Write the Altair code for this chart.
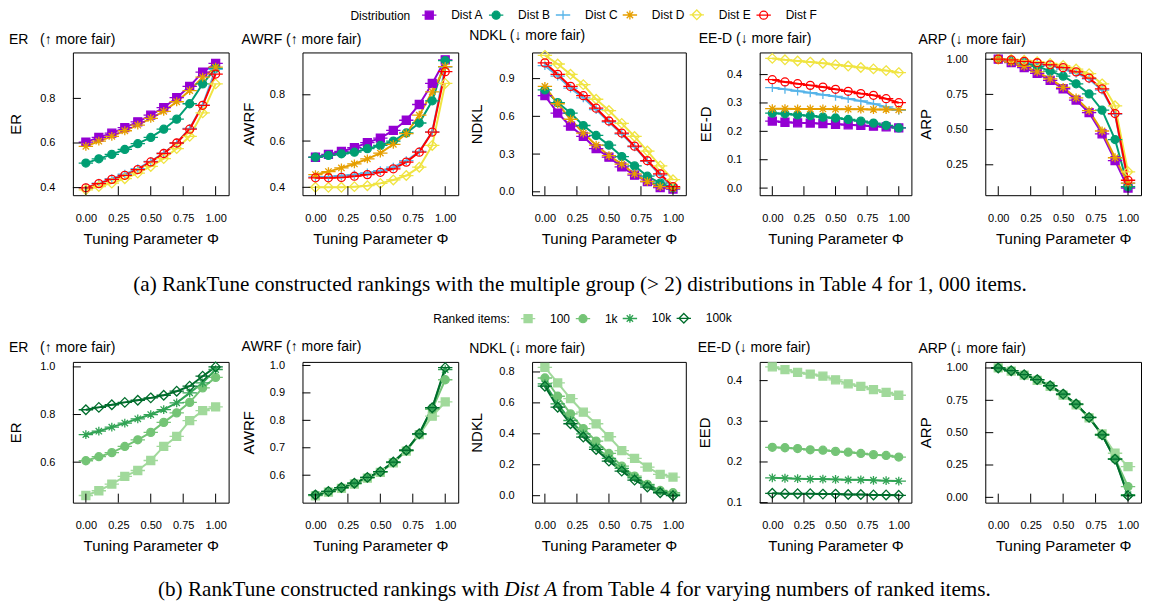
import altair as alt
import pandas as pd

FONT = "Liberation Sans"
SERIF = "Liberation Serif"

# ---------------- data ----------------
PHI = [0.0, 0.1, 0.2, 0.3, 0.4, 0.5, 0.6, 0.7, 0.8, 0.9, 1.0]
X_TICKS = [0.0, 0.25, 0.5, 0.75, 1.0]

DISTS = ["Dist A", "Dist B", "Dist C", "Dist D", "Dist E", "Dist F"]
DIST_COLORS = ["#9400d3", "#009e73", "#56b4e9", "#e69f00", "#f0e442", "#ff0000"]
DIST_FILLS = ["#9400d3", "#009e73", "transparent", "transparent", "transparent", "transparent"]

ITEMS = ["100", "1k", "10k", "100k"]
ITEM_COLORS = ["#a1d99b", "#74c476", "#31a354", "#006d2c"]
ITEM_FILLS = ["#a1d99b", "#74c476", "transparent", "transparent"]

# marker symbols (with the horizontal error-cap stroke)
SQUARE = "M-1.8,0H1.8M-1,-1H1V1H-1Z"
CIRCLE = "M-1.8,0H1.8M-1,0A1,1,0,1,0,1,0A1,1,0,1,0,-1,0Z"
PLUS = "M-1.8,0H1.8M0,-1.1V1.1"
STAR = "M-1.8,0H1.8M0,-1.1V1.1M-0.8,-0.8L0.8,0.8M-0.8,0.8L0.8,-0.8"
DIAMOND = "M-1.8,0H1.8M0,-1.2L1.2,0L0,1.2L-1.2,0Z"
DIST_SHAPES = [SQUARE, CIRCLE, PLUS, STAR, DIAMOND, CIRCLE]
ITEM_SHAPES = [SQUARE, CIRCLE, STAR, DIAMOND]

# (a) multiple-group distributions, 1,000 items
TOP_ER = {
    "Dist A": [0.604, 0.625, 0.644, 0.669, 0.695, 0.725, 0.759, 0.803, 0.854, 0.918, 0.957],
    "Dist B": [0.510, 0.529, 0.549, 0.571, 0.597, 0.625, 0.662, 0.707, 0.776, 0.865, 0.935],
    "Dist C": [0.400, 0.420, 0.440, 0.460, 0.485, 0.518, 0.555, 0.600, 0.665, 0.770, 0.930],
    "Dist D": [0.585, 0.608, 0.630, 0.655, 0.680, 0.710, 0.742, 0.785, 0.835, 0.895, 0.940],
    "Dist E": [0.390, 0.405, 0.420, 0.440, 0.465, 0.495, 0.530, 0.575, 0.630, 0.735, 0.865],
    "Dist F": [0.399, 0.418, 0.437, 0.455, 0.481, 0.515, 0.553, 0.600, 0.662, 0.769, 0.909],
}
TOP_AWRF = {
    "Dist A": [0.530, 0.542, 0.555, 0.571, 0.593, 0.613, 0.646, 0.690, 0.758, 0.849, 0.951],
    "Dist B": [0.530, 0.538, 0.545, 0.552, 0.567, 0.581, 0.600, 0.635, 0.678, 0.774, 0.948],
    "Dist C": [0.445, 0.446, 0.450, 0.455, 0.462, 0.472, 0.487, 0.515, 0.555, 0.640, 0.920],
    "Dist D": [0.455, 0.468, 0.484, 0.501, 0.523, 0.548, 0.586, 0.632, 0.712, 0.813, 0.922],
    "Dist E": [0.400, 0.400, 0.400, 0.403, 0.407, 0.417, 0.432, 0.451, 0.487, 0.581, 0.849],
    "Dist F": [0.441, 0.441, 0.443, 0.448, 0.455, 0.465, 0.480, 0.509, 0.552, 0.639, 0.900],
}
TOP_NDKL = {
    "Dist A": [0.764, 0.626, 0.522, 0.440, 0.343, 0.275, 0.198, 0.132, 0.082, 0.033, 0.022],
    "Dist B": [0.810, 0.709, 0.626, 0.527, 0.448, 0.371, 0.280, 0.206, 0.124, 0.069, 0.033],
    "Dist C": [1.003, 0.920, 0.824, 0.747, 0.654, 0.555, 0.459, 0.357, 0.242, 0.132, 0.033],
    "Dist D": [0.838, 0.700, 0.577, 0.467, 0.371, 0.288, 0.220, 0.143, 0.082, 0.041, 0.027],
    "Dist E": [1.085, 1.016, 0.934, 0.852, 0.736, 0.646, 0.544, 0.440, 0.324, 0.206, 0.096],
    "Dist F": [1.025, 0.934, 0.838, 0.764, 0.665, 0.563, 0.467, 0.363, 0.247, 0.143, 0.041],
}
TOP_EED = {
    "Dist A": [0.236, 0.232, 0.230, 0.229, 0.227, 0.225, 0.223, 0.221, 0.218, 0.216, 0.212],
    "Dist B": [0.264, 0.262, 0.258, 0.255, 0.250, 0.247, 0.242, 0.236, 0.229, 0.221, 0.212],
    "Dist C": [0.354, 0.348, 0.342, 0.336, 0.329, 0.323, 0.315, 0.307, 0.297, 0.286, 0.274],
    "Dist D": [0.280, 0.280, 0.279, 0.279, 0.279, 0.278, 0.278, 0.278, 0.277, 0.277, 0.276],
    "Dist E": [0.457, 0.452, 0.448, 0.444, 0.440, 0.435, 0.430, 0.425, 0.420, 0.414, 0.407],
    "Dist F": [0.382, 0.374, 0.368, 0.362, 0.356, 0.348, 0.341, 0.333, 0.327, 0.315, 0.301],
}
TOP_ARP = {
    "Dist A": [1.000, 0.975, 0.940, 0.900, 0.850, 0.790, 0.710, 0.620, 0.470, 0.280, 0.085],
    "Dist B": [1.000, 0.990, 0.975, 0.950, 0.915, 0.880, 0.825, 0.753, 0.638, 0.429, 0.094],
    "Dist C": [1.000, 0.990, 0.980, 0.970, 0.955, 0.930, 0.900, 0.860, 0.780, 0.610, 0.120],
    "Dist D": [1.000, 0.980, 0.950, 0.910, 0.860, 0.800, 0.725, 0.635, 0.490, 0.300, 0.120],
    "Dist E": [1.000, 0.998, 0.992, 0.982, 0.970, 0.955, 0.930, 0.897, 0.825, 0.669, 0.200],
    "Dist F": [1.000, 0.995, 0.985, 0.975, 0.960, 0.940, 0.910, 0.866, 0.789, 0.614, 0.140],
}

# (b) Dist A, varying numbers of ranked items
BOT_ER = {
    "100": [0.460, 0.480, 0.508, 0.540, 0.565, 0.607, 0.666, 0.708, 0.774, 0.816, 0.832],
    "1k": [0.606, 0.623, 0.640, 0.666, 0.694, 0.725, 0.767, 0.807, 0.851, 0.912, 0.956],
    "10k": [0.716, 0.730, 0.747, 0.764, 0.782, 0.800, 0.821, 0.849, 0.891, 0.933, 0.989],
    "100k": [0.820, 0.830, 0.841, 0.851, 0.860, 0.870, 0.881, 0.898, 0.919, 0.961, 1.000],
}
BOT_AWRF = {
    "100": [0.525, 0.538, 0.552, 0.568, 0.589, 0.610, 0.645, 0.688, 0.748, 0.815, 0.867],
    "1k": [0.528, 0.540, 0.554, 0.570, 0.591, 0.612, 0.647, 0.690, 0.750, 0.840, 0.948],
    "10k": [0.528, 0.541, 0.555, 0.571, 0.592, 0.613, 0.648, 0.691, 0.751, 0.845, 0.985],
    "100k": [0.528, 0.541, 0.555, 0.571, 0.592, 0.613, 0.648, 0.691, 0.751, 0.846, 0.992],
}
BOT_NDKL = {
    "100": [0.830, 0.729, 0.628, 0.540, 0.465, 0.381, 0.292, 0.241, 0.185, 0.138, 0.120],
    "1k": [0.761, 0.643, 0.529, 0.434, 0.353, 0.273, 0.191, 0.127, 0.073, 0.034, 0.019],
    "10k": [0.723, 0.594, 0.486, 0.400, 0.314, 0.241, 0.176, 0.116, 0.069, 0.030, 0.009],
    "100k": [0.708, 0.572, 0.465, 0.379, 0.299, 0.224, 0.159, 0.101, 0.056, 0.019, 0.000],
}
BOT_EED = {
    "100": [0.434, 0.427, 0.420, 0.416, 0.411, 0.402, 0.392, 0.386, 0.378, 0.371, 0.364],
    "1k": [0.236, 0.235, 0.233, 0.230, 0.229, 0.226, 0.224, 0.221, 0.218, 0.216, 0.212],
    "10k": [0.161, 0.160, 0.159, 0.158, 0.158, 0.157, 0.156, 0.156, 0.155, 0.154, 0.153],
    "100k": [0.123, 0.122, 0.122, 0.122, 0.121, 0.121, 0.120, 0.120, 0.119, 0.119, 0.118],
}
BOT_ARP = {
    "100": [1.000, 0.976, 0.945, 0.905, 0.858, 0.790, 0.715, 0.615, 0.490, 0.341, 0.238],
    "1k": [1.000, 0.978, 0.947, 0.909, 0.862, 0.797, 0.720, 0.617, 0.484, 0.300, 0.083],
    "10k": [1.000, 0.979, 0.948, 0.910, 0.863, 0.798, 0.721, 0.618, 0.483, 0.295, 0.020],
    "100k": [1.000, 0.979, 0.948, 0.910, 0.863, 0.798, 0.721, 0.618, 0.483, 0.295, 0.013],
}

NB = "\u00a0"
TOP_TITLES = ["ER" + NB * 3 + "(↑ more fair)", "AWRF (↑ more fair)", "NDKL (↓ more fair)",
              "EE-D (↓ more fair)", "ARP (↓ more fair)"]
BOT_TITLES = TOP_TITLES
TOP_YTITLES = ["ER", "AWRF", "NDKL", "EE-D", "ARP"]
BOT_YTITLES = ["ER", "AWRF", "NDKL", "EED", "ARP"]

TOP_YTICKS = [[0.4, 0.6, 0.8], [0.4, 0.6, 0.8], [0.0, 0.3, 0.6, 0.9],
              [0.0, 0.1, 0.2, 0.3, 0.4], [0.25, 0.5, 0.75, 1.0]]
BOT_YTICKS = [[0.6, 0.8, 1.0], [0.6, 0.7, 0.8, 0.9, 1.0], [0.0, 0.2, 0.4, 0.6, 0.8],
              [0.1, 0.2, 0.3, 0.4], [0.0, 0.25, 0.5, 0.75, 1.0]]
TOP_YFMT = [".1f", ".1f", ".1f", ".1f", ".2f"]
BOT_YFMT = [".1f", ".1f", ".1f", ".1f", ".2f"]
TOP_YDOM = [[0.366, 1.006], [0.366, 0.983], [-0.027, 1.108], [-0.025, 0.478], [0.034, 1.048]]
BOT_YDOM = [[0.43, 1.021], [0.5, 1.013], [-0.045, 0.865], [0.1, 0.446], [-0.041, 1.047]]

CAP_A = "(a) RankTune constructed rankings with the multiple group (> 2) distributions in Table 4 for 1, 000 items."
CAP_B_PRE = "(b) RankTune constructed rankings with"
CAP_B_ITAL = "Dist A"
CAP_B_POST = "from Table 4 for varying numbers of ranked items."

# ---------------- layout ----------------
WIDTHS = [156, 156, 154, 152, 156]
SPACING = 74
TOP_H = 143
BOT_H = 141
TOP_TDIST = [57, 54, 56, 54, 60]
BOT_TDIST = [57, 54, 56, 55, 60]
CAP_W = 1068
CAP_SIZE = 21.2


def make_df(values, order):
    rows = []
    for s in order:
        for p, v in zip(PHI, values[s]):
            rows.append({"phi": p, "v": v, "series": s})
    return pd.DataFrame(rows)


def panel(values, order, scales, legend, title, ytitle, ydom, yticks, yfmt, width, height, tdist):
    stroke_scale, fill_scale, shape_scale = scales
    df = make_df(values, order)
    x = alt.X("phi:Q", scale=alt.Scale(domain=[-0.1, 1.1], nice=False, zero=False),
              axis=alt.Axis(values=X_TICKS, format=".2f", title="Tuning Parameter Φ",
                            labelFlush=False, labelPadding=17, titlePadding=8))
    y = alt.Y("v:Q", scale=alt.Scale(domain=ydom, nice=False, zero=False),
              axis=alt.Axis(values=yticks, format=yfmt, title=ytitle, titleX=-tdist,
                            titleY=height / 2, titleAngle=270, titleAlign="center",
                            titleBaseline="middle", labelFlush=False, labelPadding=18))
    stroke = alt.Stroke("series:N", scale=stroke_scale, legend=legend)
    fill = alt.Fill("series:N", scale=fill_scale, legend=legend)
    shape = alt.Shape("series:N", scale=shape_scale, legend=legend)
    lines = alt.Chart(df).mark_line(strokeWidth=2).encode(x=x, y=y, stroke=stroke)
    pts = alt.Chart(df).mark_point(size=64, strokeWidth=1.3, opacity=1).encode(
        x=x, y=y, stroke=stroke, fill=fill, shape=shape)
    xt = alt.Chart(pd.DataFrame({"phi": X_TICKS})).mark_rule(color="black", strokeWidth=1).encode(
        x=x, y=alt.value(height), y2=alt.value(height - 9))
    yt = alt.Chart(pd.DataFrame({"v": yticks})).mark_rule(color="black", strokeWidth=1).encode(
        y=y, x=alt.value(0), x2=alt.value(8))
    return alt.layer(lines, pts, xt, yt).properties(
        width=width, height=height,
        title=alt.TitleParams(title, anchor="start", offset=5, fontSize=14, font=FONT,
                              fontWeight="normal", color="black"))


def make_legend(title, lx, ly, n):
    return alt.Legend(title=title, orient="none", legendX=lx, legendY=ly, direction="horizontal",
                      columns=n, titleOrient="left", titleFont=FONT, titleFontSize=12,
                      titleFontWeight="normal", titleColor="black", labelFont=FONT,
                      labelFontSize=12, labelColor="black", symbolSize=64,
                      symbolStrokeWidth=1.3, columnPadding=2, labelOffset=16,
                      titlePadding=12, padding=0, offset=0)


top_scales = (alt.Scale(domain=DISTS, range=DIST_COLORS),
              alt.Scale(domain=DISTS, range=DIST_FILLS),
              alt.Scale(domain=DISTS, range=DIST_SHAPES))
bot_scales = (alt.Scale(domain=ITEMS, range=ITEM_COLORS),
              alt.Scale(domain=ITEMS, range=ITEM_FILLS),
              alt.Scale(domain=ITEMS, range=ITEM_SHAPES))
top_legend = make_legend("Distribution", 278, -44, 6)
bot_legend = make_legend("Ranked items:", 361, -50, 4)

TOP_VALUES = [TOP_ER, TOP_AWRF, TOP_NDKL, TOP_EED, TOP_ARP]
BOT_VALUES = [BOT_ER, BOT_AWRF, BOT_NDKL, BOT_EED, BOT_ARP]

top_panels = [panel(TOP_VALUES[i], DISTS, top_scales, top_legend, TOP_TITLES[i], TOP_YTITLES[i],
                    TOP_YDOM[i], TOP_YTICKS[i], TOP_YFMT[i], WIDTHS[i], TOP_H, TOP_TDIST[i])
              for i in range(5)]
bot_panels = [panel(BOT_VALUES[i], ITEMS, bot_scales, bot_legend, BOT_TITLES[i], BOT_YTITLES[i],
                    BOT_YDOM[i], BOT_YTICKS[i], BOT_YFMT[i], WIDTHS[i], BOT_H, BOT_TDIST[i])
              for i in range(5)]

row1 = alt.hconcat(*top_panels, spacing=SPACING, bounds="flush")
row2 = alt.hconcat(*bot_panels, spacing=SPACING, bounds="flush")

noview = alt.ViewBackground(stroke="transparent")
cap_a = alt.Chart(pd.DataFrame({"t": [CAP_A]})).mark_text(
    font=SERIF, fontSize=CAP_SIZE, color="black", align="center", baseline="middle").encode(
    text="t:N", x=alt.value(508), y=alt.value(29)).properties(width=CAP_W, height=47, view=noview)


def cap_piece(text, xpos, align, style="normal"):
    return alt.Chart(pd.DataFrame({"t": [text]})).mark_text(
        font=SERIF, fontSize=CAP_SIZE, fontStyle=style, color="black", align=align,
        baseline="middle").encode(text="t:N", x=alt.value(xpos), y=alt.value(27))


cap_b = alt.layer(
    cap_piece(CAP_B_PRE, 427, "right"),
    cap_piece(CAP_B_ITAL, 432, "left", "italic"),
    cap_piece(CAP_B_POST, 490, "left"),
).properties(width=CAP_W, height=30, view=noview)

chart = alt.vconcat(row1, cap_a, row2, cap_b, spacing=8).resolve_scale(
    stroke="independent", fill="independent", shape="independent"
).properties(padding=0).configure_view(stroke="black", strokeWidth=1).configure_axis(
    labelFont=FONT, titleFont=FONT, labelColor="black", titleColor="black", labelFontSize=11,
    titleFontSize=15, titleFontWeight="normal", grid=False, ticks=False, tickSize=0, domain=False)

chart.save("out.html", embed_options={"renderer": "svg", "actions": False})
